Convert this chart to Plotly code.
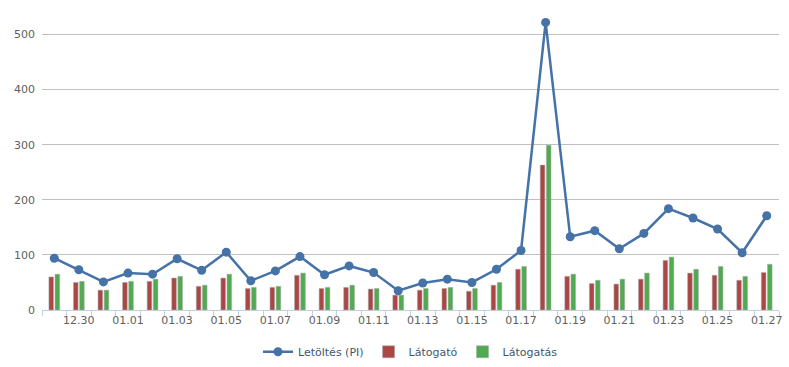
import plotly.graph_objects as go

days = ["12.29", "12.30", "12.31", "01.01", "01.02", "01.03", "01.04", "01.05", "01.06", "01.07",
        "01.08", "01.09", "01.10", "01.11", "01.12", "01.13", "01.14", "01.15", "01.16", "01.17",
        "01.18", "01.19", "01.20", "01.21", "01.22", "01.23", "01.24", "01.25", "01.26", "01.27"]
letoltes = [94, 73, 51, 67, 65, 93, 72, 105, 53, 71,
            97, 64, 80, 68, 35, 49, 56, 50, 74, 108,
            522, 133, 144, 111, 139, 184, 167, 147, 104, 171]
latogato = [60, 50, 36, 50, 52, 58, 43, 58, 39, 41,
            63, 39, 41, 38, 27, 36, 39, 34, 45, 74,
            263, 61, 48, 47, 56, 90, 67, 63, 54, 68]
latogatas = [65, 52, 36, 52, 56, 61, 45, 65, 41, 43,
             67, 41, 45, 39, 27, 39, 41, 39, 50, 79,
             299, 65, 54, 56, 67, 96, 74, 79, 61, 83]
y_ticks = [0, 100, 200, 300, 400, 500]
tick_text = [d if i % 2 == 1 else "" for i, d in enumerate(days)]

fig = go.Figure()
fig.add_trace(go.Bar(x=days, y=latogato, name="Látogató", legendrank=2,
                     marker=dict(color="#AA4643", line=dict(color="rgba(170,170,170,0.55)", width=1))))
fig.add_trace(go.Bar(x=days, y=latogatas, name="Látogatás", legendrank=3,
                     marker=dict(color="#50AA50", line=dict(color="rgba(170,170,170,0.55)", width=1))))
fig.add_trace(go.Scatter(x=days, y=letoltes, name="Letöltés (PI)", legendrank=1,
                         mode="lines+markers",
                         line=dict(color="#4572A7", width=2.5),
                         marker=dict(color="#4572A7", size=9)))

fig.update_layout(
    width=789, height=367,
    margin=dict(l=42, r=10, t=7, b=57, autoexpand=False),
    paper_bgcolor="white", plot_bgcolor="white",
    bargap=0.5, bargroupgap=0.25,
    font=dict(family="DejaVu Sans", size=11, color="#606060"),
    legend=dict(orientation="h", x=0.5, xanchor="center", y=-0.09, yanchor="top",
                font=dict(size=11, color="#3E576F"), itemwidth=30,
                traceorder="normal"),
    showlegend=True,
)
fig.update_xaxes(type="category", tickmode="array", tickvals=days, ticktext=tick_text,
                 tickangle=0, automargin=False,
                 tickson="boundaries", ticks="outside", ticklen=5, tickcolor="#C0D0E0",
                 showline=True, linecolor="#C0D0E0", linewidth=1, showgrid=False,
                 range=[-0.5, 29.5], tickfont=dict(size=11, color="#606060"))
fig.update_yaxes(range=[0, 550], tickvals=y_ticks, showgrid=True, gridcolor="#C0C0C0",
                 gridwidth=1, zeroline=False, showline=False, ticks="", automargin=False,
                 ticklabelstandoff=6,
                 tickfont=dict(size=11, color="#606060"))

fig.write_html("out.html", config={"displayModeBar": False},
               post_script="document.body.style.margin='0';document.body.style.overflow='hidden';")
